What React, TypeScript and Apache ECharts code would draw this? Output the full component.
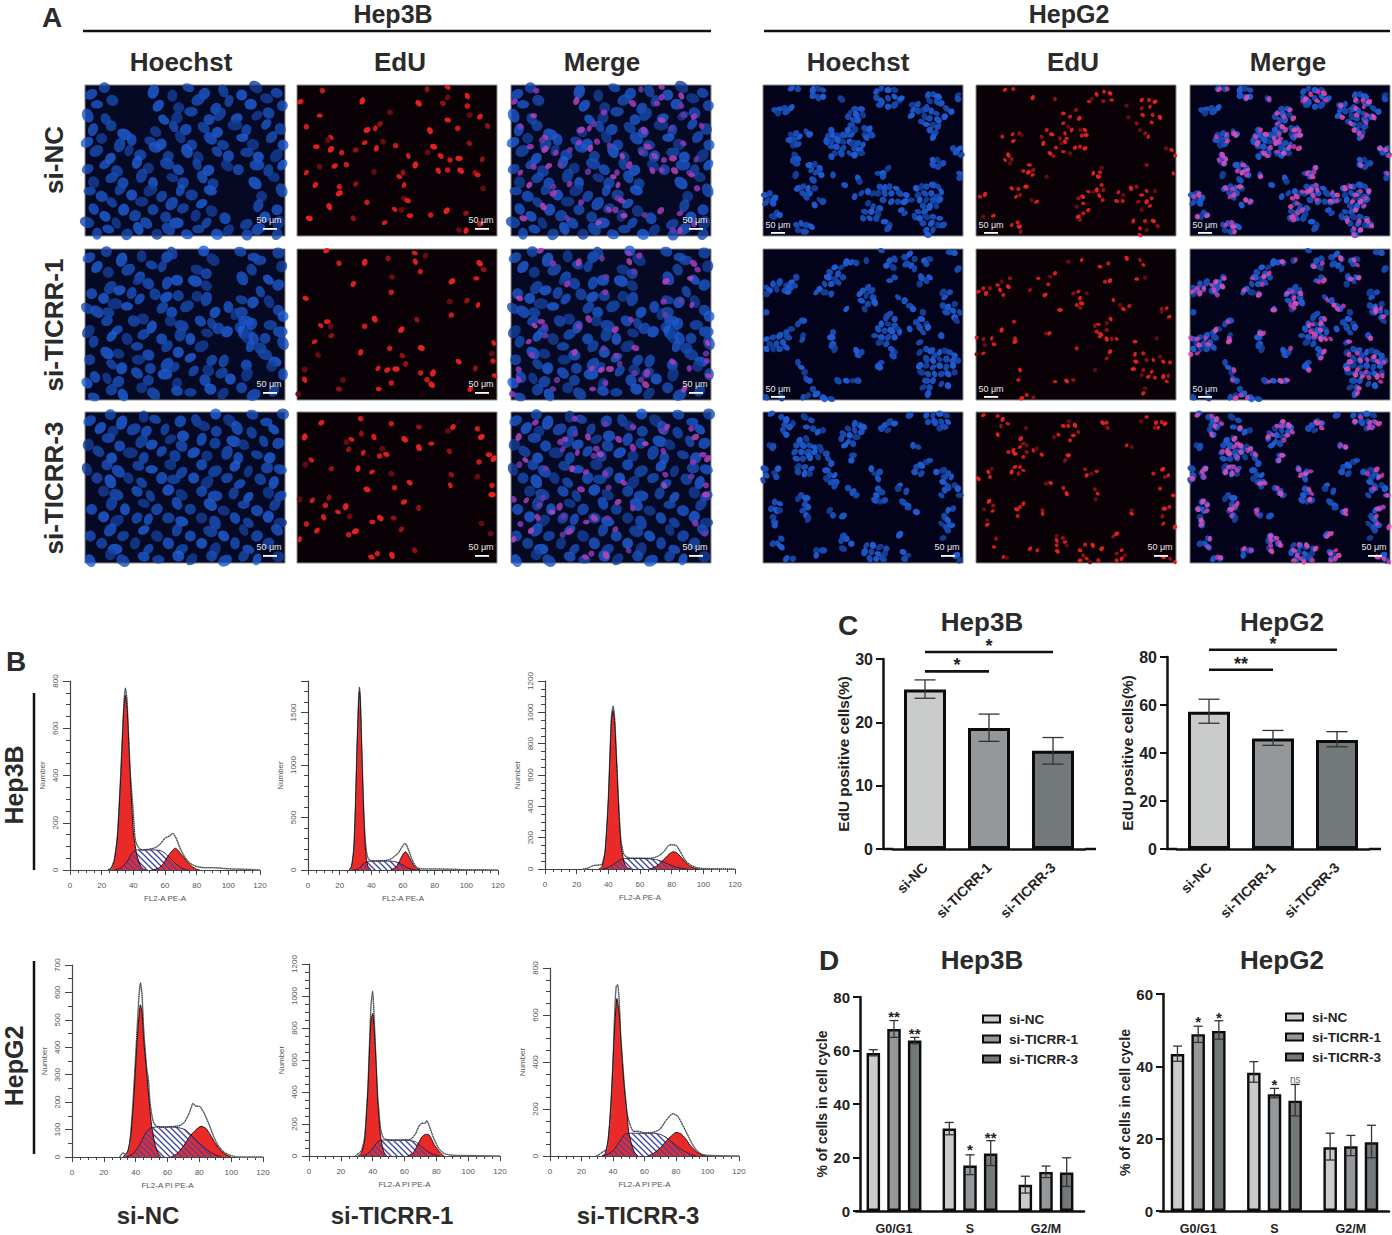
import { useEffect, useRef } from "react";
import * as echarts from "echarts";

type Pt = number[];
const shift = (pts: Pt[], dx: number, dy: number) => pts.map(([x, y]) => [x - dx, y - dy]);

const FONT = "Liberation Sans";
const INK = "#2b2b2b";

// ---- panel A: nuclei (600 x 453 units per image) ----
const hep3bBlue1: Pt[] = [[18,28],[58,8],[205,20],[262,32],[310,8],[358,26],[415,18],[470,30],[512,6],[575,24],[36,58],[82,46],[220,62],[281,68],[340,44],[392,70],[432,48],[497,58],[545,40],[592,62],[8,92],[62,102],[236,104],[276,98],[318,80],[372,104],[404,88],[455,100],[516,92],[551,84],[24,134],[78,122],[118,148],[212,140],[266,124],[302,134],[356,128],[397,142],[450,120],[484,136],[544,118],[586,132],[6,172],[50,160],[104,180],[140,164],[196,168],[228,178],[286,156],[320,180],[376,160],[414,180],[472,158],[504,178],[560,156],[594,180],[34,198],[76,220],[132,196],[166,210],[210,188],[250,214],[306,198],[340,216],[396,200],[430,214],[486,202],[520,216],[574,212],[8,252],[60,238],[96,258],[156,232],[190,250],[246,236],[280,254],[336,238],[370,256],[426,242],[460,254],[516,240],[550,256],[592,240],[26,292],[80,278],[114,294],[170,272],[204,294],[262,278],[294,294],[352,276],[384,296],[510,294],[566,276],[14,318],[50,334],[106,312],[140,330],[196,316],[230,334],[286,316],[320,330],[376,316],[530,334],[590,316],[26,372],[80,352],[116,374],[170,350],[204,374],[260,356],[294,370],[350,356],[380,378],[520,362],[576,374],[6,412],[60,394],[94,414],[150,392],[184,414],[242,396],[274,414],[332,392],[364,414],[420,400],[484,418],[540,396],[580,414],[36,446],[70,432],[126,448],[160,430],[216,448],[250,432],[306,448],[340,432],[396,448],[430,436],[486,450],[520,432],[576,448]];
const hep3bBlue2: Pt[] = [[12,26],[64,8],[110,32],[170,22],[200,48],[246,24],[262,12],[356,6],[384,32],[466,8],[506,24],[580,12],[36,54],[70,70],[130,62],[164,84],[232,52],[276,94],[336,62],[364,74],[472,88],[500,62],[550,92],[590,52],[524,34],[20,134],[76,116],[104,124],[160,94],[190,104],[246,102],[280,140],[330,96],[364,110],[526,128],[580,108],[6,178],[56,148],[90,164],[140,132],[164,150],[210,136],[244,144],[336,142],[364,150],[430,174],[470,152],[504,160],[552,158],[580,184],[36,188],[70,190],[126,172],[174,210],[232,176],[260,190],[306,172],[390,190],[450,195],[470,190],[485,215],[465,235],[475,250],[490,250],[474,216],[500,224],[556,228],[594,202],[10,248],[66,216],[96,244],[146,216],[200,234],[256,216],[290,230],[346,216],[380,224],[426,248],[486,268],[540,268],[586,248],[26,278],[80,262],[126,270],[176,256],[230,270],[286,256],[316,270],[366,252],[400,238],[506,268],[14,332],[66,312],[100,314],[156,292],[190,318],[246,292],[280,310],[350,292],[380,334],[496,292],[526,298],[570,338],[560,352],[594,282],[30,384],[80,346],[110,358],[160,332],[196,358],[246,346],[266,354],[316,326],[370,364],[416,336],[484,348],[540,316],[6,402],[66,388],[100,398],[156,372],[190,394],[240,376],[276,404],[326,366],[360,394],[410,372],[436,390],[486,376],[594,376],[26,444],[80,422],[114,438],[170,416],[206,434],[276,426],[316,430],[376,420],[414,434],[470,416],[506,438],[566,426]];
const hep3bBlue3: Pt[] = [[14,26],[76,8],[110,32],[176,14],[210,22],[286,28],[334,26],[392,6],[434,26],[502,8],[544,30],[594,6],[46,48],[84,58],[146,52],[184,58],[240,52],[294,72],[356,42],[394,58],[456,48],[500,62],[566,52],[10,98],[70,78],[104,102],[170,88],[200,98],[256,82],[290,102],[350,82],[390,94],[446,88],[476,98],[536,88],[580,94],[40,118],[80,138],[136,122],[176,138],[230,118],[270,132],[326,122],[366,132],[426,122],[460,138],[516,128],[554,138],[6,172],[66,158],[100,178],[160,162],[200,172],[256,158],[290,182],[350,158],[390,178],[450,162],[490,178],[546,168],[586,172],[36,198],[76,208],[130,198],[170,212],[230,198],[266,202],[326,198],[366,212],[426,198],[464,216],[526,202],[566,212],[56,238],[94,248],[156,238],[196,252],[250,234],[290,248],[350,238],[390,252],[446,244],[490,256],[550,242],[586,252],[20,292],[80,274],[120,292],[176,274],[216,292],[276,274],[316,292],[376,278],[416,296],[476,278],[516,296],[570,278],[56,314],[96,326],[156,318],[190,322],[250,318],[290,328],[350,318],[390,332],[450,318],[490,332],[550,314],[586,332],[16,372],[76,354],[114,372],[176,354],[216,372],[276,354],[316,372],[376,358],[416,372],[476,354],[516,372],[576,354],[50,394],[90,412],[150,394],[190,412],[250,394],[290,412],[350,394],[390,412],[450,394],[490,412],[550,394],[16,446],[76,428],[114,446],[176,434],[220,442],[280,432],[320,442],[380,432],[420,446],[476,432],[516,442],[580,434]];
const hep3bRed1: Pt[] = [[10,50],[76,17],[196,48],[390,13],[452,7],[452,37],[511,33],[511,63],[365,55],[438,55],[68,92],[518,90],[549,95],[28,125],[210,135],[249,117],[235,130],[279,82],[452,105],[482,130],[399,137],[572,123],[102,157],[93,165],[58,185],[134,203],[102,193],[176,195],[203,173],[258,170],[238,190],[296,182],[410,185],[517,175],[334,213],[392,202],[431,213],[459,225],[486,220],[556,223],[28,263],[68,245],[113,243],[148,239],[355,240],[318,263],[307,275],[231,260],[424,257],[452,255],[491,257],[535,263],[542,270],[558,310],[55,300],[127,305],[127,325],[176,297],[321,300],[321,340],[332,347],[210,352],[97,365],[169,400],[293,373],[314,375],[339,392],[401,390],[449,377],[507,385],[263,413],[486,435],[507,437],[549,417],[37,400]];
const hep3bRed2: Pt[] = shift([[725,5],[763,43],[840,40],[910,28],[990,12],[1022,20],[992,38],[1007,68],[1185,43],[1197,62],[1175,88],[922,84],[806,105],[920,130],[1102,97],[1147,155],[1180,168],[1095,158],[663,148],[1100,198],[870,210],[997,212],[708,230],[738,232],[728,218],[840,232],[950,242],[740,260],[690,278],[700,318],[828,310],[915,298],[1010,297],[953,320],[1227,282],[1222,314],[1122,338],[1225,336],[934,360],[963,345],[880,358],[660,362],[908,363],[1008,372],[1045,372],[1172,358],[1230,380],[775,393],[660,392],[920,402],[1041,407],[763,420],[882,420],[641,435],[1157,420],[1027,392]], 637, 0);
const hep3bRed3: Pt[] = shift([[710,522],[828,510],[660,565],[830,555],[800,572],[785,580],[868,565],[920,525],[960,572],[1003,535],[1040,585],[1090,547],[1105,535],[1178,540],[1190,565],[792,602],[836,612],[893,600],[905,617],[885,622],[1003,597],[1094,608],[680,634],[662,648],[1213,618],[1183,640],[1227,630],[740,660],[862,670],[920,675],[820,660],[930,717],[847,722],[1100,678],[1097,710],[1178,684],[975,702],[1222,710],[1222,738],[733,747],[683,755],[645,752],[958,760],[722,770],[783,774],[1002,778],[760,790],[795,803],[717,806],[665,826],[887,808],[927,808],[863,820],[1190,824],[697,846],[792,858],[812,848],[950,842],[645,872],[1218,855],[860,925],[878,915],[922,920],[990,905]], 637, 490);

const hepg2Blue1: Pt[] = [[85,10],[105,12],[150,15],[165,10],[180,15],[150,32],[165,38],[180,35],[235,42],[35,75],[50,72],[65,70],[85,68],[45,85],[70,80],[340,20],[355,10],[375,15],[395,15],[340,38],[355,50],[375,40],[395,35],[410,45],[350,60],[375,65],[395,60],[415,40],[585,30],[585,42],[495,30],[510,28],[525,35],[500,48],[520,50],[535,55],[550,70],[565,80],[450,60],[465,58],[450,75],[465,78],[445,92],[480,75],[490,70],[505,78],[520,85],[545,95],[485,95],[500,100],[525,105],[475,110],[490,118],[510,120],[525,125],[500,135],[515,145],[510,158],[260,85],[275,72],[295,72],[255,95],[280,90],[300,90],[270,105],[285,105],[265,120],[255,135],[275,135],[250,150],[265,150],[305,130],[320,132],[305,148],[325,150],[310,158],[130,140],[140,148],[85,150],[100,145],[80,165],[95,165],[110,155],[90,180],[105,178],[205,135],[195,155],[210,150],[225,150],[240,150],[190,170],[205,170],[225,165],[240,170],[205,185],[220,185],[240,190],[260,170],[270,175],[285,175],[300,180],[275,190],[290,195],[215,205],[235,205],[205,215],[260,205],[275,210],[295,205],[570,190],[580,200],[595,210],[590,190],[95,210],[90,225],[105,222],[100,235],[510,225],[525,225],[540,235],[510,240],[525,245],[140,240],[155,238],[145,255],[170,250],[160,262],[175,270],[98,270],[210,270],[590,265],[590,278],[285,280],[290,290],[150,285],[245,300],[345,265],[360,265],[375,250],[360,275],[105,310],[120,305],[135,310],[155,310],[120,325],[140,325],[130,335],[155,360],[170,345],[180,350],[5,330],[20,325],[35,340],[15,345],[8,355],[30,355],[40,385],[50,390],[30,395],[100,420],[115,415],[130,420],[145,425],[105,435],[125,440],[275,335],[295,325],[315,320],[330,325],[350,305],[365,310],[380,305],[400,310],[345,325],[365,325],[385,325],[410,325],[430,330],[445,345],[360,345],[385,350],[405,350],[425,350],[315,355],[330,365],[350,370],[305,380],[325,380],[345,385],[300,400],[320,400],[340,400],[365,410],[380,420],[375,430],[415,375],[425,385],[460,310],[475,305],[490,305],[510,300],[525,305],[535,320],[465,330],[485,325],[505,325],[525,335],[470,345],[490,345],[510,345],[530,345],[480,362],[500,365],[520,362],[465,380],[485,380],[455,395],[470,400],[490,395],[510,395],[530,400],[480,415],[505,415],[525,420],[540,420],[490,435],[510,435],[495,450]];
const hepg2Blue2: Pt[] = [[265,40],[280,42],[250,40],[310,35],[355,5],[380,35],[395,30],[370,50],[390,55],[395,85],[380,95],[425,25],[440,15],[455,30],[430,45],[445,50],[455,60],[485,35],[500,30],[490,45],[475,85],[490,95],[500,85],[470,105],[560,10],[575,12],[585,60],[215,55],[235,55],[200,70],[225,75],[240,85],[195,85],[215,90],[185,105],[205,105],[225,100],[170,120],[185,130],[205,135],[160,130],[100,85],[85,100],[70,110],[50,100],[30,105],[10,115],[20,125],[40,120],[65,125],[80,115],[95,110],[75,130],[10,135],[315,115],[300,125],[325,125],[290,135],[310,140],[330,145],[295,155],[315,165],[335,160],[305,180],[405,145],[425,155],[440,170],[450,180],[540,130],[560,130],[545,145],[540,170],[555,175],[575,165],[550,190],[570,185],[590,190],[575,205],[580,215],[10,190],[120,215],[105,225],[250,180],[480,190],[380,195],[395,210],[370,205],[355,225],[375,225],[395,230],[345,240],[365,245],[385,245],[405,240],[335,260],[355,265],[375,265],[395,265],[350,280],[370,285],[410,250],[460,220],[475,210],[490,225],[470,235],[440,240],[480,250],[495,235],[85,240],[70,250],[50,260],[30,265],[10,270],[20,285],[40,285],[60,280],[75,265],[10,300],[30,300],[50,300],[70,295],[210,250],[205,265],[120,260],[118,272],[535,260],[470,280],[210,285],[215,300],[205,290],[285,320],[295,310],[280,305],[395,310],[390,320],[385,300],[355,340],[350,355],[470,310],[490,300],[505,305],[515,320],[530,310],[545,305],[560,310],[575,320],[490,330],[510,335],[530,330],[550,330],[570,335],[585,335],[470,350],[490,350],[510,355],[530,350],[550,355],[570,350],[475,370],[495,375],[515,375],[535,375],[555,375],[575,370],[490,395],[510,395],[535,405],[555,410],[480,415],[500,415],[495,435],[105,340],[115,355],[125,370],[130,390],[140,395],[225,395],[250,395],[270,395],[285,395],[345,350],[150,420],[160,435],[135,440],[120,445],[180,445],[205,450],[185,450],[55,445],[10,445]];
const hepg2Blue3: Pt[] = [[25,5],[55,15],[70,25],[90,35],[65,40],[80,45],[60,55],[70,68],[125,15],[145,25],[130,45],[150,50],[165,60],[180,55],[440,10],[490,10],[510,10],[530,5],[550,10],[495,30],[515,30],[535,30],[555,30],[530,48],[545,45],[365,40],[380,30],[395,35],[375,55],[355,50],[275,35],[290,40],[300,45],[255,50],[275,55],[295,60],[240,65],[260,70],[280,75],[235,80],[255,90],[270,95],[245,100],[20,100],[30,105],[450,100],[465,105],[110,85],[130,80],[100,100],[120,100],[140,100],[155,105],[170,105],[95,120],[115,120],[135,120],[155,120],[175,115],[190,125],[100,140],[120,140],[140,135],[165,135],[195,140],[205,155],[270,130],[265,145],[105,165],[125,165],[145,170],[105,180],[125,185],[140,185],[5,170],[10,190],[0,205],[45,170],[35,185],[40,195],[190,175],[200,190],[215,190],[190,200],[205,210],[220,210],[215,220],[325,170],[335,185],[350,180],[345,200],[460,165],[475,160],[490,150],[500,145],[455,180],[475,185],[520,180],[540,175],[555,185],[565,195],[545,195],[540,210],[575,220],[555,225],[545,235],[535,250],[585,230],[590,250],[255,228],[270,240],[280,250],[410,220],[405,230],[430,238],[345,230],[355,240],[340,250],[350,268],[365,265],[335,265],[115,250],[130,258],[105,260],[125,275],[135,285],[120,295],[130,310],[135,320],[35,270],[50,275],[25,290],[40,295],[50,295],[420,270],[435,280],[435,288],[460,300],[200,295],[210,310],[240,312],[570,290],[555,295],[30,315],[35,330],[35,340],[545,315],[555,325],[535,335],[550,345],[565,340],[555,355],[410,368],[540,378],[240,370],[250,380],[235,385],[265,395],[240,410],[55,380],[45,395],[30,395],[55,405],[160,415],[180,415],[160,430],[310,400],[330,400],[350,405],[370,410],[305,420],[325,420],[345,425],[365,425],[320,440],[340,440],[360,440],[420,420],[435,430],[425,440],[70,440],[90,440],[580,430],[590,445]];
const hepg2Red1: Pt[] = shift([[725,14],[750,12],[808,38],[875,42],[977,50],[985,42],[1000,28],[1022,20],[1040,25],[1020,48],[1045,45],[1090,62],[1135,45],[1157,45],[1175,50],[1135,70],[1160,65],[1095,97],[1138,90],[1168,90],[1190,97],[1120,115],[1165,112],[1130,135],[900,85],[920,95],[948,100],[938,75],[900,115],[915,125],[925,135],[850,135],[865,148],[835,155],[905,145],[950,135],[965,135],[955,152],[968,150],[768,145],[748,148],[775,150],[750,168],[717,155],[840,175],[890,160],[910,160],[895,175],[905,170],[878,188],[860,205],[870,213],[900,200],[920,205],[935,188],[950,185],[965,190],[1145,145],[1155,155],[1208,190],[1225,195],[1235,212],[735,210],[745,222],[725,225],[740,235],[798,240],[780,258],[795,262],[810,255],[808,270],[1015,248],[990,265],[1010,262],[1005,275],[1150,240],[1230,265],[850,275],[745,310],[765,312],[788,305],[770,330],[758,335],[805,345],[820,350],[1015,300],[1000,315],[1020,315],[975,320],[990,320],[1008,332],[1018,345],[958,335],[945,340],[960,355],[940,365],[975,375],[960,385],[945,395],[950,405],[1065,322],[1080,330],[1060,348],[1078,348],[1103,310],[1120,305],[1150,318],[1175,318],[1135,330],[1165,340],[1150,350],[1125,350],[1160,363],[1135,375],[1110,408],[1145,408],[1170,408],[1183,423],[1130,430],[1150,435],[1130,450],[763,412],[768,425],[772,440],[745,420],[660,395],[690,392],[650,335],[665,328]], 638, 0);
const hepg2Red2: Pt[] = shift([[645,620],[660,610],[668,625],[680,610],[703,600],[715,590],[710,615],[720,630],[735,605],[740,580],[825,580],[860,575],[875,565],[855,598],[845,630],[800,615],[955,525],[915,530],[1010,545],[1035,535],[1090,520],[1130,525],[1140,540],[1145,578],[1120,582],[1025,590],[1040,587],[930,625],[945,620],[970,625],[950,640],[940,660],[955,655],[950,668],[1050,645],[1070,660],[1080,672],[1098,663],[890,675],[1195,672],[1210,670],[1195,680],[1218,695],[752,710],[715,735],[995,722],[1005,718],[1030,715],[1042,702],[1000,740],[1012,748],[1030,735],[1010,755],[848,745],[858,745],[755,760],[755,770],[660,762],[685,760],[665,780],[692,778],[640,758],[1030,762],[1045,762],[1060,762],[1180,760],[1115,770],[940,790],[1040,800],[1030,820],[660,805],[640,808],[1115,808],[1140,805],[1118,830],[1150,825],[1170,825],[1190,815],[1200,830],[1220,832],[1110,852],[1140,855],[1165,860],[1135,870],[1155,875],[1175,878],[1200,875],[1215,872],[1210,890],[995,855],[770,855],[765,885],[910,888],[930,885],[875,890],[1145,910],[1140,925],[790,930],[775,940],[810,938]], 638, 492);
const hepg2Red3: Pt[] = shift([[660,10],[703,12],[718,22],[713,42],[733,35],[788,48],[703,68],[1030,32],[1018,32],[1033,48],[1150,15],[1133,28],[1178,32],[1195,30],[1205,35],[1175,47],[1185,47],[917,28],[900,42],[915,42],[935,40],[945,60],[885,68],[872,75],[930,70],[920,85],[772,80],[780,95],[770,105],[790,100],[750,115],[735,120],[755,125],[790,120],[810,115],[820,110],[835,128],[780,135],[915,130],[905,145],[1090,100],[1105,105],[755,165],[770,165],[745,180],[765,185],[780,175],[685,170],[675,180],[680,195],[645,200],[965,172],[1000,178],[985,185],[970,190],[1170,185],[1198,172],[1205,195],[1215,190],[848,215],[862,213],[900,228],[910,245],[995,232],[1003,245],[997,262],[1230,250],[1190,230],[677,268],[690,280],[688,297],[662,292],[780,275],[770,285],[760,292],[838,295],[838,305],[1105,295],[1105,305],[1218,285],[1203,290],[1197,313],[1200,335],[672,325],[672,338],[763,312],[1235,345],[698,380],[692,405],[880,372],[880,385],[880,400],[882,418],[898,378],[905,390],[910,400],[800,410],[822,415],[1060,365],[1050,373],[720,435],[730,437],[950,415],[965,398],[988,400],[960,430],[970,440],[980,450],[950,445],[1005,445],[1015,410],[1060,425],[1075,415],[1085,430],[1075,440],[1060,445],[1200,435],[1220,440],[1235,450]], 638, 0);

// ---- panel B: DNA histograms, [channel, count] ----
const b1G1: Pt[] = [[24,0],[26,8],[28,40],[30,140],[32,380],[34,680],[35,740],[36,690],[38,400],[40,160],[42,70],[44,25],[46,5],[48,0]];
const b1S: Pt[] = [[28,0],[32,8],[36,35],[39,70],[42,85],[46,85],[50,85],[54,85],[58,80],[61,65],[64,45],[67,25],[70,10],[73,2],[75,0]];
const b1G2: Pt[] = [[52,0],[56,8],[59,28],[62,60],[65,85],[66.5,92],[68,85],[71,60],[74,35],[77,15],[80,3],[82,0]];
const b1Raw: Pt[] = [[24,0],[26,8],[28,45],[30,150],[32,400],[34,700],[35,770],[36,720],[38,420],[40,240],[41,140],[42,110],[44,90],[46,85],[50,88],[54,95],[57,110],[60,135],[63,145],[65,155],[67,135],[70,85],[73,50],[76,28],[80,15],[85,10],[90,10],[95,8],[100,5],[110,3],[120,0]];
const b2G1: Pt[] = [[26,0],[27.5,30],[29,200],[30,600],[31,1150],[32,1600],[32.5,1700],[33,1620],[34,1100],[35,600],[36,260],[37,90],[38,30],[40,0]];
const b2S: Pt[] = [[28,0],[32,10],[35,60],[37,80],[40,85],[45,85],[50,85],[54,82],[57,70],[60,45],[63,20],[66,5],[68,0]];
const b2G2: Pt[] = [[52,0],[54,12],[56,35],[58,90],[60,150],[61.5,175],[63,150],[65,90],[67,40],[69,10],[71,0]];
const b2Raw: Pt[] = [[26,0],[27.5,35],[29,220],[30,620],[31,1180],[32,1640],[32.5,1740],[33,1650],[34,1130],[35,650],[36,320],[37,170],[38,110],[40,85],[45,88],[50,92],[53,110],[55,135],[57,160],[59,210],[61,250],[62,245],[64,170],[66,90],[68,35],[70,15],[75,10],[82,10],[90,8],[100,3],[120,0]];
const b3G1: Pt[] = [[34,0],[36,15],[38,110],[40,430],[41,700],[42,950],[43,1010],[44,930],[45,720],[46,500],[47,290],[48,150],[50,40],[52,8],[54,0]];
const b3S: Pt[] = [[36,0],[40,10],[44,35],[47,55],[50,65],[55,68],[60,68],[65,65],[70,60],[74,48],[78,30],[82,15],[86,5],[90,0]];
const b3G2: Pt[] = [[66,0],[70,15],[73,40],[76,70],[79,100],[81,110],[83,105],[86,75],[89,40],[92,15],[95,3],[97,0]];
const b3Raw: Pt[] = [[24,0],[27,5],[30,20],[33,25],[36,30],[38,115],[40,440],[41,720],[42,980],[43,1040],[44,960],[45,750],[46,530],[47,320],[48,180],[50,90],[53,70],[58,68],[63,68],[68,70],[72,85],[75,110],[78,150],[80,155],[83,150],[86,100],[89,50],[92,25],[96,8],[100,3],[120,0]];
const b4G1: Pt[] = [[32,0],[35,20],[37,80],[39,230],[41,430],[43,555],[44,530],[45,430],[47,300],[49,170],[50,115],[52,50],[54,15],[56,0]];
const b4S: Pt[] = [[34,0],[38,10],[42,40],[46,85],[49,105],[54,110],[60,110],[66,108],[71,100],[74,85],[78,60],[82,40],[86,20],[90,8],[94,0]];
const b4G2: Pt[] = [[62,0],[66,12],[70,40],[74,75],[78,100],[81,112],[84,105],[87,80],[90,50],[94,20],[98,4],[100,0]];
const b4Raw: Pt[] = [[30,0],[32,15],[34,8],[36,40],[38,170],[40,370],[42,580],[43,635],[44,590],[45,470],[47,320],[48,285],[49,200],[51,130],[53,112],[57,108],[62,110],[68,115],[71,130],[74,165],[76,195],[78,185],[80,185],[83,160],[86,120],[89,75],[92,40],[96,15],[100,5],[105,0],[120,0]];
const b5G1: Pt[] = [[31,0],[33,20],[35,100],[37,400],[38,650],[39,850],[40,890],[41,780],[42,600],[43,370],[44,230],[45,120],[47,25],[49,0]];
const b5S: Pt[] = [[33,0],[36,10],[39,35],[42,75],[44,95],[48,100],[53,100],[58,100],[63,98],[67,88],[70,65],[73,40],[76,20],[79,8],[82,0]];
const b5G2: Pt[] = [[62,0],[65,15],[67,45],[69,85],[71,120],[73,135],[75,135],[77,105],[79,65],[82,25],[84,5],[85,0]];
const b5Raw: Pt[] = [[29,0],[31,15],[33,35],[35,120],[37,430],[38,700],[39,950],[40,1030],[41,850],[42,620],[43,400],[44,270],[45,170],[47,110],[50,100],[55,98],[60,100],[64,105],[67,140],[69,185],[71,205],[73,205],[74,220],[76,175],[78,120],[80,75],[82,40],[85,15],[90,5],[100,3],[120,0]];
const b6G1: Pt[] = [[33,0],[35,10],[37,70],[39,250],[41,540],[42.5,670],[44,600],[45,490],[47,300],[49,170],[50,100],[52,45],[54,12],[56,0]];
const b6S: Pt[] = [[33,0],[37,8],[41,30],[45,70],[48,95],[53,97],[60,97],[66,97],[70,92],[74,78],[78,55],[82,35],[86,18],[90,5],[93,0]];
const b6G2: Pt[] = [[62,0],[66,12],[70,35],[74,65],[77,85],[80,100],[83,95],[86,75],[89,45],[93,18],[97,3],[99,0]];
const b6Raw: Pt[] = [[29,0],[31,5],[33,15],[36,30],[38,150],[40,400],[41,600],[42,720],[43,730],[44,650],[45,500],[47,320],[49,180],[51,130],[53,105],[56,105],[60,98],[65,100],[70,115],[73,145],[76,170],[78,180],[81,170],[84,135],[87,95],[90,55],[93,25],[96,8],[100,3],[120,0]];

// ---- panel C ----
const groups = ["si-NC", "si-TICRR-1", "si-TICRR-3"];
const barColors = ["#c9cccb", "#95989b", "#73787a"];
const cHep3bMean = [25.2, 19.1, 15.5];
const cHep3bLow = [23.8, 17, 13.4];
const cHep3bHigh = [26.7, 21.3, 17.6];
const cHepg2Mean = [57.2, 46, 45.4];
const cHepg2Low = [52.4, 43.2, 42.6];
const cHepg2High = [62.4, 49.4, 48.9];

// ---- panel D ----
const phases = ["G0/G1", "S", "G2/M"];
const dHep3bMean = [[59.1, 30.8, 9.8], [68, 17, 14.6], [63.7, 21.5, 14.4]];
const dHep3bLow = [[58, 28.5, 6.7], [64.9, 13.6, 12.5], [62.5, 17, 9.2]];
const dHep3bHigh = [[60.3, 33.1, 13], [71.2, 21, 16.8], [64.9, 26.3, 19.9]];
const dHepg2Mean = [[43.4, 38.2, 17.6], [48.9, 32.3, 17.9], [49.8, 30.5, 19]];
const dHepg2Low = [[41.4, 35.6, 14.1], [46.6, 31.3, 15.3], [47.5, 26.3, 14.7]];
const dHepg2High = [[45.6, 41.3, 21.5], [51.1, 33.9, 20.9], [52.6, 35, 23.7]];

// [category, slot in group, value, text]
const dHep3bMarks: any[][] = [[0, 1, 73.2, "**"], [0, 2, 66.9, "**"], [1, 1, 23.3, "*"], [1, 2, 27.9, "**"]];
const dHepg2Marks: any[][] = [[0, 1, 52.6, "*"], [0, 2, 53.9, "*"], [1, 1, 35.3, "*"], [1, 2, 36.4, "ns"]];
// [from, to, value, text]
const cHep3bSig: any[][] = [[0, 2, 31.1, "*"], [0, 1, 28.05, "*"]];
const cHepg2Sig: any[][] = [[0, 2, 83, "*"], [0, 0.97, 74.7, "**"]];

// [text, x, y, size, rotated]
const headings: any[][] = [
  ["Hep3B", 393, 14, 25], ["HepG2", 1069, 14, 25],
  ["Hoechst", 181, 62, 26], ["EdU", 400, 62, 26], ["Merge", 602, 62, 26],
  ["Hoechst", 858, 62, 26], ["EdU", 1073, 62, 26], ["Merge", 1288, 62, 26],
  ["si-NC", 54, 160, 26, true], ["si-TICRR-1", 54, 325, 26, true], ["si-TICRR-3", 54, 488, 26, true],
  ["A", 52, 17, 28], ["B", 16, 661, 28], ["C", 848, 625, 28], ["D", 829, 960, 28],
  ["Hep3B", 14, 785, 25, true], ["HepG2", 14, 1066, 25, true],
  ["si-NC", 148, 1215, 24], ["si-TICRR-1", 392, 1215, 24], ["si-TICRR-3", 638, 1215, 24],
  ["Hep3B", 982, 622, 26], ["HepG2", 1282, 622, 26], ["Hep3B", 982, 960, 26], ["HepG2", 1282, 960, 26],
];
// [x1, y1, x2, y2, width]
const rules: number[][] = [
  [83, 31, 711, 31, 2.5], [764, 31, 1390, 31, 2.5], [34, 693, 34, 870, 2.5], [34, 961, 34, 1154, 2.5],
  [883, 849, 893, 849, 2.5], [1085, 849, 1096, 849, 2.5], [1166, 849, 1177, 849, 2.5], [1369, 849, 1381, 849, 2.5],
];

const cellRows = [
  { xs: [85, 297, 511], y: 85, blue: hep3bBlue1, red: hep3bRed1, dense: true, barLeft: false },
  { xs: [85, 297, 511], y: 249, blue: hep3bBlue2, red: hep3bRed2, dense: true, barLeft: false },
  { xs: [85, 297, 511], y: 412, blue: hep3bBlue3, red: hep3bRed3, dense: true, barLeft: false },
  { xs: [763, 976, 1190], y: 85, blue: hepg2Blue1, red: hepg2Red1, dense: false, barLeft: true },
  { xs: [763, 976, 1190], y: 249, blue: hepg2Blue2, red: hepg2Red2, dense: false, barLeft: true },
  { xs: [763, 976, 1190], y: 412, blue: hepg2Blue3, red: hepg2Red3, dense: false, barLeft: false },
];

const flowPanels = [
  { left: 70, right: 260, top: 681, bottom: 870, max: 800, step: 200, minor: 4, xName: "FL2-A PE-A", g1: b1G1, s: b1S, g2: b1G2, raw: b1Raw },
  { left: 308, right: 498, top: 681, bottom: 870, max: 1800, step: 500, minor: 5, xName: "FL2-A PE-A", g1: b2G1, s: b2S, g2: b2G2, raw: b2Raw },
  { left: 545, right: 735, top: 681, bottom: 869, max: 1200, step: 200, minor: 4, xName: "FL2-A PE-A", g1: b3G1, s: b3S, g2: b3G2, raw: b3Raw },
  { left: 72, right: 263, top: 965, bottom: 1157, max: 700, step: 100, minor: 2, xName: "FL2-A PI PE-A", g1: b4G1, s: b4S, g2: b4G2, raw: b4Raw },
  { left: 309, right: 500, top: 964, bottom: 1156, max: 1200, step: 200, minor: 4, xName: "FL2-A PI PE-A", g1: b5G1, s: b5S, g2: b5G2, raw: b5Raw },
  { left: 550, right: 739, top: 968, bottom: 1156, max: 800, step: 200, minor: 4, xName: "FL2-A PI PE-A", g1: b6G1, s: b6S, g2: b6G2, raw: b6Raw },
];

// shapes and shades the nuclei cycle through
const ovalSizes = [[11, 8], [9, 9], [12, 9], [8, 10], [10, 7], [10, 9]];
const ovalTurns = [30, -40, 70, 0, -20, 50, -65];
const blueShades = ["#1d58cc", "#184bb0", "#2160d8", "#153f98", "#1a50bc"];
const redShades = ["#ea2020", "#d01c1e", "#ee2422", "#9a1216", "#e01e20", "#6a0c12"];
const pinkShades = ["#a83cc0", "#9038b8", "#b844bc", "#6e38a8"];

function hatchCanvas() {
  const c = document.createElement("canvas");
  c.width = 6;
  c.height = 6;
  const g = c.getContext("2d")!;
  g.strokeStyle = "#3d48ad";
  g.lineWidth = 1.4;
  g.beginPath();
  g.moveTo(-1, 2); g.lineTo(4, 7);
  g.moveTo(2, -1); g.lineTo(7, 4);
  g.stroke();
  return c;
}

function errorSeries(xi: number, low: number[], high: number[], dodge: number, cap: number) {
  return {
    type: "custom", xAxisIndex: xi, yAxisIndex: xi, silent: true, z: 5,
    encode: { x: 0, y: [1, 2] },
    data: low.map((v, i) => [i, v, high[i]]),
    renderItem: (_: any, api: any) => {
      const a = api.coord([api.value(0), api.value(1)]);
      const b = api.coord([api.value(0), api.value(2)]);
      const x = a[0] + dodge;
      const style = { stroke: "#333", lineWidth: 1.3 };
      return {
        type: "group",
        children: [
          { type: "line", shape: { x1: x, y1: a[1], x2: x, y2: b[1] }, style },
          { type: "line", shape: { x1: x - cap, y1: a[1], x2: x + cap, y2: a[1] }, style },
          { type: "line", shape: { x1: x - cap, y1: b[1], x2: x + cap, y2: b[1] }, style },
        ],
      };
    },
  };
}

function sigSeries(xi: number, sig: any[][]) {
  return {
    type: "custom", xAxisIndex: xi, yAxisIndex: xi, silent: true, z: 6,
    data: sig.map((s) => [s[0], s[2]]),
    renderItem: (p: any, api: any) => {
      const s = sig[p.dataIndex];
      const a = api.coord([s[0], s[2]]);
      const b = api.coord([s[1], s[2]]);
      return {
        type: "group",
        children: [
          { type: "line", shape: { x1: a[0], y1: a[1], x2: b[0], y2: b[1] }, style: { stroke: "#111", lineWidth: 2.6 } },
          { type: "text", style: { text: s[3], x: (a[0] + b[0]) / 2, y: a[1] - 6, align: "center", verticalAlign: "middle", font: `bold 18px '${FONT}'`, fill: "#222" } },
        ],
      };
    },
  };
}

function markSeries(xi: number, marks: any[][], spacing: number) {
  return {
    type: "custom", xAxisIndex: xi, yAxisIndex: xi, silent: true, z: 6,
    data: marks.map((m) => [m[0], m[2]]),
    renderItem: (p: any, api: any) => {
      const m = marks[p.dataIndex];
      const a = api.coord([m[0], m[2]]);
      const ns = m[3] === "ns";
      return {
        type: "text",
        style: {
          text: m[3], x: a[0] + (m[1] - 1) * spacing, y: a[1] + (ns ? 0 : 1), align: "center", verticalAlign: "middle",
          font: ns ? `10px '${FONT}'` : `bold 15px '${FONT}'`, fill: ns ? "#666" : "#222",
        },
      };
    },
  };
}

function buildOption() {
  const grid: any[] = [];
  const xAxis: any[] = [];
  const yAxis: any[] = [];
  const series: any[] = [];
  const graphic: any[] = [];
  const legend: any[] = [];
  const hatch = hatchCanvas();

  headings.forEach(([text, x, y, size, rotated]) => {
    graphic.push({
      type: "text", x, y, rotation: rotated ? Math.PI / 2 : 0, silent: true,
      style: { text, align: "center", verticalAlign: "middle", font: `bold ${size}px '${FONT}'`, fill: INK },
    });
  });
  rules.forEach(([x1, y1, x2, y2, w]) => {
    graphic.push({ type: "line", silent: true, shape: { x1, y1, x2, y2 }, style: { stroke: "#111", lineWidth: w } });
  });

  // microscopy images
  cellRows.forEach((row) => {
    row.xs.forEach((left, col) => {
      const xi = grid.length;
      const bg = col === 1 ? "#0a0106" : row.dense ? "#050924" : "#02021a";
      grid.push({ left, top: row.y, width: 200, height: 151, show: true, backgroundColor: bg, borderColor: "#8a8a8a", borderWidth: 1 });
      xAxis.push({ type: "value", gridIndex: xi, min: 0, max: 600, show: false });
      yAxis.push({ type: "value", gridIndex: xi, min: 0, max: 453, inverse: true, show: false });
      const scatter = (data: Pt[], scale: number, shades: string[], opacity: number) => ({
        type: "scatter", xAxisIndex: xi, yAxisIndex: xi, data, silent: true,
        symbolSize: (_: any, p: any) => ovalSizes[p.dataIndex % ovalSizes.length].map((v) => v * scale),
        symbolRotate: (_: any, p: any) => ovalTurns[p.dataIndex % ovalTurns.length],
        itemStyle: { color: (p: any) => shades[p.dataIndex % shades.length], opacity },
      });
      if (col !== 1) series.push(scatter(row.blue, row.dense ? 1.22 : 0.72, blueShades, row.dense ? 0.8 : 0.95));
      if (col === 1) series.push(scatter(row.red, row.dense ? 0.62 : 0.46, redShades, 0.95));
      if (col === 2) series.push(scatter(row.red, row.dense ? 0.68 : 0.56, row.dense ? pinkShades : ["#dc48b6", "#c83cb0", "#e850b8"], 0.85));
      const barX = row.barLeft ? left + 8 : left + 178;
      const textX = row.barLeft ? left + 15 : left + 184;
      graphic.push({ type: "rect", silent: true, z: 10, shape: { x: barX, y: row.y + (row.barLeft ? 147 : 143), width: 14, height: 1.8 }, style: { fill: "#fff" } });
      graphic.push({ type: "text", silent: true, z: 10, x: textX, y: row.y + (row.barLeft ? 140 : 135), style: { text: "50 μm", align: "center", verticalAlign: "middle", font: `9px '${FONT}'`, fill: "#e8e8e8" } });
    });
  });

  // DNA histograms
  flowPanels.forEach((p) => {
    const xi = grid.length;
    const axisLine = { lineStyle: { color: "#444", width: 1.2 } };
    const label = { fontSize: 8, color: "#555", fontFamily: FONT };
    grid.push({ left: p.left, top: p.top, width: p.right - p.left, height: p.bottom - p.top });
    xAxis.push({
      type: "value", gridIndex: xi, min: 0, max: 120, interval: 20, axisLine: { show: true, ...axisLine },
      axisTick: { show: true, length: 5, lineStyle: { color: "#444" } },
      minorTick: { show: true, splitNumber: 4, length: 3, lineStyle: { color: "#444" } },
      splitLine: { show: false }, axisLabel: { ...label, margin: 11 },
      name: p.xName, nameLocation: "middle", nameGap: 24, nameTextStyle: label,
    });
    yAxis.push({
      type: "value", gridIndex: xi, min: 0, max: p.max, interval: p.step, axisLine: { show: true, ...axisLine },
      axisTick: { show: true, length: 7, lineStyle: { color: "#444" } },
      minorTick: { show: true, splitNumber: p.minor, length: 4, lineStyle: { color: "#444" } },
      splitLine: { show: false },
      axisLabel: { ...label, rotate: 90, margin: 11, showMaxLabel: p.max % p.step === 0, formatter: (v: number) => String(v) },
      name: "Number", nameLocation: "middle", nameGap: 24, nameRotate: 90, nameTextStyle: label,
    });
    const curve = (data: Pt[], extra: any) => ({
      type: "line", xAxisIndex: xi, yAxisIndex: xi, data, showSymbol: false, silent: true, smooth: 0.2, ...extra,
    });
    const red = { areaStyle: { color: "#ea2a28", opacity: 1 }, lineStyle: { color: "#2a0a0a", width: 1 } };
    series.push(curve(p.raw, { lineStyle: { color: "#9aa4a4", width: 1.5 } }));
    series.push(curve(p.g1, red));
    series.push(curve(p.g2, red));
    series.push(curve(p.s, { areaStyle: { color: { image: hatch, repeat: "repeat" }, opacity: 1 }, lineStyle: { color: "#2a1a3a", width: 0.9 } }));
    series.push(curve(p.raw, { lineStyle: { color: "#222", width: 1, type: "dotted" } }));
  });

  // bar charts
  const barAxisFont = { fontFamily: FONT, fontWeight: "bold", color: "#222" };
  const addBarAxes = (g: any, cats: string[], max: number, step: number, yName: string, offset: number, opts: any) => {
    const xi = grid.length;
    grid.push(g);
    xAxis.push({
      type: "category", gridIndex: xi, data: cats,
      axisLine: { lineStyle: { color: "#111", width: 2.5 } },
      axisTick: { alignWithLabel: true, length: 7, lineStyle: { color: "#111", width: 2 } },
      axisLabel: { ...barAxisFont, ...opts.x, interval: 0 },
    });
    yAxis.push({
      type: "value", gridIndex: xi, min: 0, max, interval: step, offset,
      axisLine: { show: true, lineStyle: { color: "#111", width: 2.5 } },
      axisTick: { show: true, length: 7, lineStyle: { color: "#111", width: 2 } },
      splitLine: { show: false },
      axisLabel: { ...barAxisFont, fontSize: opts.yFont, margin: 10 },
      name: yName, nameLocation: "middle", nameGap: opts.nameGap,
      nameTextStyle: { ...barAxisFont, fontSize: opts.nameFont },
    });
    return xi;
  };

  const cChart = (g: any, mean: number[], low: number[], high: number[], sig: any[][], max: number, step: number) => {
    const xi = addBarAxes(g, groups, max, step, "EdU positive cells(%)", 10, {
      x: { rotate: 45, fontSize: 14, margin: 16 }, yFont: 16, nameFont: 15.4, nameGap: 31,
    });
    series.push({
      type: "bar", xAxisIndex: xi, yAxisIndex: xi, barWidth: 42, silent: true,
      data: mean.map((value, i) => ({ value, itemStyle: { color: barColors[i], borderColor: "#0c0c0c", borderWidth: 3 } })),
    });
    series.push(errorSeries(xi, low, high, 0, 10.5));
    series.push(sigSeries(xi, sig));
  };
  cChart({ left: 893, top: 659, width: 192, height: 190 }, cHep3bMean, cHep3bLow, cHep3bHigh, cHep3bSig, 30, 10);
  cChart({ left: 1177, top: 657, width: 192, height: 192 }, cHepg2Mean, cHepg2Low, cHepg2High, cHepg2Sig, 80, 20);

  const dChart = (g: any, offset: number, mean: number[][], low: number[][], high: number[][], marks: any[][], max: number, step: number, leg: any) => {
    const xi = addBarAxes(g, phases, max, step, "% of cells in cell cycle", offset, {
      x: { fontSize: 12.5, margin: 11 }, yFont: 15, nameFont: 14, nameGap: 29,
    });
    const spacing = 20.7;
    groups.forEach((name, k) => {
      series.push({
        type: "bar", name, xAxisIndex: xi, yAxisIndex: xi, barWidth: 13.5, barGap: "53%", silent: true, data: mean[k],
        itemStyle: { color: barColors[k], borderColor: "#0c0c0c", borderWidth: 2.4 },
      });
    });
    groups.forEach((_, k) => series.push(errorSeries(xi, low[k], high[k], (k - 1) * spacing, 4.5)));
    series.push(markSeries(xi, marks, spacing));
    legend.push({
      ...leg, orient: "vertical", data: groups, icon: "rect", itemWidth: 17, itemHeight: 7, itemGap: 6, selectedMode: false,
      textStyle: { fontFamily: FONT, fontWeight: "bold", fontSize: 13.5, color: "#222", padding: [0, 0, 0, 4] },
    });
  };
  dChart({ left: 856, top: 997, width: 228, height: 217 }, -4, dHep3bMean, dHep3bLow, dHep3bHigh, dHep3bMarks, 80, 20, { left: 977, top: 1007 });
  dChart({ left: 1160, top: 994, width: 229, height: 218 }, -3, dHepg2Mean, dHepg2Low, dHepg2High, dHepg2Marks, 60, 20, { left: 1280, top: 1005 });

  return { animation: false, backgroundColor: "#fff", grid, xAxis, yAxis, series, graphic, legend };
}

export default function App() {
  const chartRef = useRef<HTMLDivElement>(null);

  useEffect(() => {
    if (!chartRef.current) return;
    const chart = echarts.init(chartRef.current, undefined, { renderer: "svg" });
    chart.setOption(buildOption());
    return () => {
      chart.dispose();
    };
  }, []);

  return <div ref={chartRef} style={{ position: "absolute", left: 0, top: 0, width: 1392, height: 1235 }} />;
}
